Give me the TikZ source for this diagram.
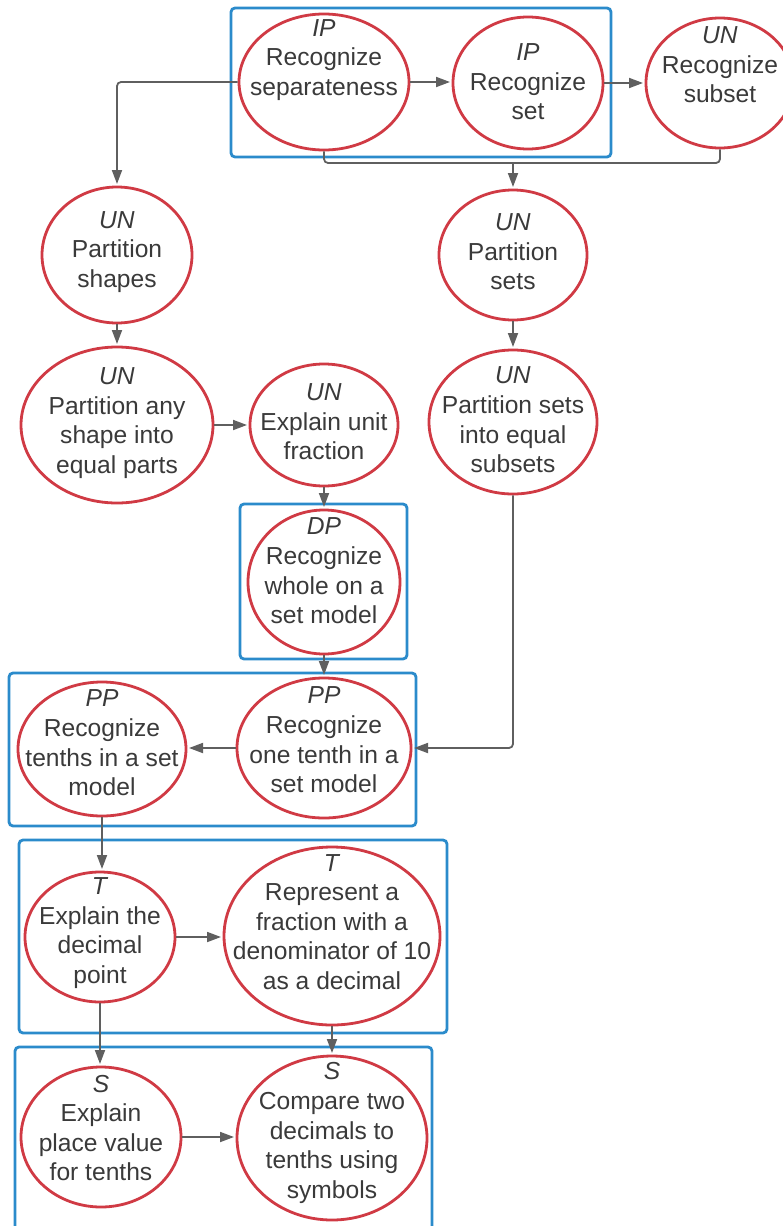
\documentclass[tikz,border=0pt]{standalone}
\usepackage{fontspec}
\setmainfont{Liberation Sans}
\usetikzlibrary{arrows.meta,shapes.geometric}
\definecolor{ellred}{HTML}{D03A44}
\definecolor{frameblue}{HTML}{2B8BCB}
\definecolor{txtgray}{HTML}{3A3A3A}
\definecolor{arrgray}{HTML}{5F5F5F}
\begin{document}
\begin{tikzpicture}[x=0.5pt,y=-0.5pt,
  ell/.style={ellipse, draw=ellred, line width=1.4pt, inner sep=0pt, fill=white},
  lbl/.style={align=center, text=txtgray, font=\fontsize{12.3}{14.8}\selectfont, inner sep=0pt},
  grp/.style={draw=frameblue, line width=1.4pt, rounded corners=2pt},
  arr/.style={draw=arrgray, line width=0.9pt, rounded corners=2pt, -{Triangle[length=7pt,width=5pt]}, shorten >=0.8pt},
  ln/.style={draw=arrgray, line width=0.9pt, rounded corners=2pt}]
\useasboundingbox (0,0) rectangle (782,1226);
% group frames
\draw[grp] (231,8) rectangle (611,157);
\draw[grp] (240,504) rectangle (407,659);
\draw[grp] (9,673) rectangle (416,826);
\draw[grp] (19,840) rectangle (447,1033);
\draw[grp] (15,1047) rectangle (432,1240);
% ellipses
\node[ell, minimum width=85pt, minimum height=68pt] (e1) at (324,82) {};
\node[ell, minimum width=75pt, minimum height=66pt] (e2) at (528,83) {};
\node[ell, minimum width=74pt, minimum height=65pt] (e3) at (720,83) {};
\node[ell, minimum width=75pt, minimum height=68pt] (e4) at (117,255) {};
\node[ell, minimum width=74pt, minimum height=65pt] (e5) at (513,255) {};
\node[ell, minimum width=96pt, minimum height=78pt] (e6) at (117,425) {};
\node[ell, minimum width=74pt, minimum height=61pt] (e7) at (324,425) {};
\node[ell, minimum width=84pt, minimum height=72pt] (e8) at (513,422) {};
\node[ell, minimum width=76pt, minimum height=72pt] (e9) at (324,582) {};
\node[ell, minimum width=84pt, minimum height=67pt] (e10) at (102,749) {};
\node[ell, minimum width=87pt, minimum height=70pt] (e11) at (324,748) {};
\node[ell, minimum width=75pt, minimum height=65pt] (e12) at (100,937) {};
\node[ell, minimum width=108pt, minimum height=89pt] (e13) at (332,936) {};
\node[ell, minimum width=80pt, minimum height=70pt] (e14) at (101,1137) {};
\node[ell, minimum width=95pt, minimum height=82pt] (e15) at (332,1138) {};
% labels
\node[lbl] (t1) at (324,60) {\textit{IP}\\Recognize\\separateness};
\node[lbl] (t2) at (528,82) {\textit{IP}\\Recognize\\set};
\node[lbl] (t3) at (720,65) {\textit{UN}\\Recognize\\subset};
\node[lbl] (t4) at (117,252) {\textit{UN}\\Partition\\shapes};
\node[lbl] (t5) at (513,252) {\textit{UN}\\Partition\\sets};
\node[lbl] (t6) at (117,423) {\textit{UN}\\Partition any\\shape into\\equal parts};
\node[lbl] (t7) at (324,422) {\textit{UN}\\Explain unit\\fraction};
\node[lbl] (t8) at (513,420) {\textit{UN}\\Partition sets\\into equal\\subsets};
\node[lbl] (t9) at (324,571) {\textit{DP}\\Recognize\\whole on a\\set model};
\node[lbl] (t10) at (102,743) {\textit{PP}\\Recognize\\tenths in a set\\model};
\node[lbl] (t11) at (324,740) {\textit{PP}\\Recognize\\one tenth in a\\set model};
\node[lbl] (t12) at (100,933) {\textit{T}\\Explain the\\decimal\\point};
\node[lbl] (t13) at (332,922) {\textit{T}\\Represent a\\fraction with a\\denominator of 10\\as a decimal};
\node[lbl] (t14) at (101,1128) {\textit{S}\\Explain\\place value\\for tenths};
\node[lbl] (t15) at (332,1133) {\textit{S}\\Compare two\\decimals to\\tenths using\\symbols};
% connectors
\coordinate (j) at (513,163);
\draw[arr] (e1.east) -- (e1.east -| e2.west);
\draw[arr] (e2.east) -- (e2.east -| e3.west);
\draw[arr] (e1.west) -| (e4.north);
\draw[ln] (e1.south) |- (j);
\draw[ln] (e3.south) |- (j);
\draw[arr] (j) -- (e5.north);
\draw[arr] (e4.south) -- (e6.north);
\draw[arr] (e6.east) -- (e6.east -| e7.west);
\draw[arr] (e5.south) -- (e8.north);
\draw[arr] (e7.south) -- (e9.north);
\draw[arr] (e9.south) -- (e11.north);
\draw[arr] (e8.south) |- (e11.east);
\draw[arr] (e11.west) -- (e11.west -| e10.east);
\draw[arr] (e10.south) -- (e10.south |- e12.north);
\draw[arr] (e12.east) -- (e12.east -| e13.west);
\draw[arr] (e12.south) -- (e12.south |- e14.north);
\draw[arr] (e13.south) -- (e15.north);
\draw[arr] (e14.east) -- (e14.east -| e15.west);
\end{tikzpicture}
\end{document}
